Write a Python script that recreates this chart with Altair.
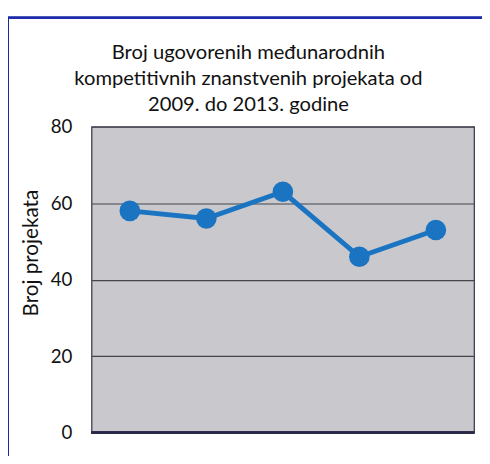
import altair as alt
import pandas as pd

years = ["2009", "2010", "2011", "2012", "2013"]
projects = [58, 56, 63, 46, 53]
y_ticks = [0, 20, 40, 60, 80]
title_lines = ["Broj ugovorenih međunarodnih",
               "kompetitivnih znanstvenih projekata od",
               "2009. do 2013. godine"]
y_title = "Broj projekata"

df = pd.DataFrame({"godina": years, "broj": projects})

FONT = "Lato"
BLUE = "#1b74c1"

x_enc = alt.X("godina:N", sort=years, axis=None,
              scale=alt.Scale(type="point", padding=0.5))
y_enc = alt.Y("broj:Q",
              scale=alt.Scale(domain=[0, 80], nice=False),
              axis=alt.Axis(values=y_ticks, title=y_title, ticks=False, domain=False,
                            labelPadding=20, labelFontSize=19, labelFont=FONT,
                            labelColor="#111111", gridColor="#45454e", gridWidth=1.2,
                            titleFont=FONT, titleFontSize=21, titleFontWeight="normal",
                            titleColor="#111111", titleAngle=270, titleX=-61, titleY=128,
                            titleAlign="center", titleBaseline="middle"))

frame = alt.Chart(df).mark_rect(fill="transparent", stroke="#1a2aa8", strokeWidth=2).encode(
    x=alt.value(-85), x2=alt.value(420), y=alt.value(-111), y2=alt.value(360)
)

line = alt.Chart(df).mark_line(color=BLUE, strokeWidth=5).encode(x=x_enc, y=y_enc)
points = alt.Chart(df).mark_circle(color=BLUE, opacity=1, size=440).encode(x=x_enc, y=y_enc)

bottom = alt.Chart(df).mark_rule(color="#2a2a48", strokeWidth=2.2).encode(
    x=alt.value(0), x2=alt.value(389), y=alt.value(311)
)

chart = alt.layer(frame, line, points, bottom).properties(
    width=389, height=311,
    background="white",
    title=alt.TitleParams(title_lines, font=FONT, fontSize=20.5, fontWeight="normal",
                          color="#111111", anchor="middle", frame="group", dx=-35,
                          dy=112, offset=12, lineHeight=26),
    autosize=alt.AutoSizeParams(type="none"),
    padding={"left": 85, "top": 117, "right": 8, "bottom": 20},
).configure_view(
    fill="#c9c9cd", stroke="#3c3c50", strokeWidth=1.3
)

chart.save("out.html", embed_options={"renderer": "svg", "actions": False})
